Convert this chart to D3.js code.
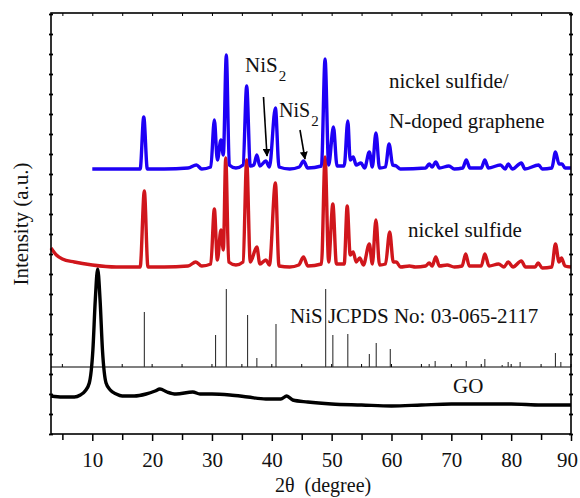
<!DOCTYPE html>
<html>
<head>
<meta charset="utf-8">
<script src="https://cdn.jsdelivr.net/npm/d3@7"></script>
<style>
  body { margin: 0; background: #fff; }
</style>
</head>
<body>
<svg id="chart" width="580" height="498"></svg>
<script>
// [2theta, intensity] (intensity in arbitrary stacked units)
const goData = [
  [3.1, 38], [5, 37], [7, 37], [8, 39], [8.8, 43], [9.5, 51], [10.1, 84], [10.5, 134], [10.9, 165],
  [11.3, 134], [11.7, 84], [12.3, 51], [13, 44], [14, 40], [15, 38], [17, 38], [19, 40], [20.5, 43],
  [21.3, 45], [22.5, 42], [24, 40], [26.8, 42], [28, 40], [30, 40], [33, 39], [36, 37], [39, 35],
  [41.5, 35], [42.5, 38], [43.5, 34], [46, 32], [50, 30], [55, 29], [60, 28], [65, 29], [70, 30],
  [75, 30], [80, 30], [85, 29], [90, 29]
];

const nisData = [
  [3.1, 186], [4, 179], [5, 175], [7, 172], [10, 169], [14, 167], [18, 167], [18.7, 243], [19.3, 167],
  [22, 167], [26, 168], [27.3, 172], [28.3, 168], [29.8, 170], [30.4, 225], [30.9, 174], [31.5, 204],
  [31.9, 184], [32.3, 276], [32.8, 172], [34, 169], [35.2, 172], [35.8, 274], [36.4, 172], [37.5, 187],
  [38, 170], [39, 174], [39.6, 169], [40.6, 251], [41.2, 168], [43, 167], [44.5, 169], [45.3, 177],
  [46, 168], [48.3, 170], [48.9, 277], [49.5, 172], [50.2, 230], [50.8, 170], [52.1, 170], [52.6, 228],
  [53.1, 179], [53.6, 182], [54.1, 172], [54.7, 176], [55.3, 169], [56.3, 190], [56.8, 170], [57.4, 214],
  [58, 169], [59, 170], [59.7, 202], [60.3, 172], [60.8, 172], [61.5, 167], [63, 168], [64, 167],
  [65.7, 168], [66.3, 171], [66.8, 168], [67.4, 177], [68, 168], [69.3, 169], [70.5, 167], [71.8, 168],
  [72.4, 180], [73, 168], [75, 168], [75.6, 180], [76.3, 168], [77.9, 170], [78.8, 167], [79.5, 172],
  [80.3, 167], [81.7, 173], [82.4, 167], [84, 167], [84.5, 171], [85.2, 166], [86.8, 167], [87.4, 190],
  [88, 172], [88.4, 176], [89, 168], [90, 167]
];

const compositeData = [
  [10, 265], [14, 265], [18, 265], [18.6, 317], [19.2, 265], [22, 265], [26, 266], [27.4, 269],
  [28.3, 265], [29.8, 267], [30.4, 314], [30.9, 274], [31.5, 294], [31.9, 279], [32.4, 379], [32.9, 269],
  [34, 266], [35.2, 269], [35.8, 348], [36.4, 268], [37, 269], [37.5, 279], [38, 268], [39, 273],
  [39.6, 267], [40.6, 326], [41.2, 267], [43, 265], [44.6, 267], [45.3, 273], [46, 266], [48.3, 268],
  [48.9, 375], [49.5, 269], [50.3, 307], [50.9, 268], [52.1, 268], [52.7, 313], [53.1, 274], [53.6, 277],
  [54.1, 269], [54.9, 271], [55.5, 266], [56.3, 282], [56.8, 267], [57.4, 301], [58, 266], [59, 267],
  [59.6, 290], [60.2, 269], [60.8, 268], [61.5, 265], [65.7, 266], [66.3, 270], [66.8, 267], [67.4, 272],
  [68, 266], [69.6, 268], [70.5, 265], [71.9, 266], [72.5, 274], [73.1, 266], [75, 266], [75.6, 274],
  [76.2, 266], [78.2, 269], [79, 265], [79.5, 270], [80.2, 265], [81.7, 271], [82.3, 265], [84.6, 269],
  [85.2, 265], [86.8, 266], [87.4, 282], [88, 270], [88.5, 270], [89, 266], [90, 266]
];

// NiS JCPDS 03-065-2117 reference lines: positions and relative heights
const jcpdsPos = [18.7, 30.6, 32.4, 35.95, 37.5, 40.7, 49.0, 50.2, 52.7, 56.3, 57.45, 59.8,
                  66.3, 67.3, 72.5, 75.6, 78.5, 79.5, 81.5, 87.4, 88.3];
const jcpdsInt = [55, 32, 78, 52, 9, 43, 78, 32, 33, 13, 24, 18, 3, 6, 6, 8, 2, 5, 5, 14, 5];
const jcpdsBase = 67;

const xTicks = [10, 20, 30, 40, 50, 60, 70, 80, 90];
const xMinor = [5, 15, 25, 35, 45, 55, 65, 75, 85];
const yTicks = d3.range(0, 421, 20);

const serif = "'Liberation Serif', 'Times New Roman', Tinos, 'DejaVu Serif', serif";

const svg = d3.select("#chart").attr("font-family", serif);
const box = {left: 51, right: 571, top: 13, bottom: 434};

const x = d3.scaleLinear().domain([3.1, 90]).range([box.left, box.right]);
const y = d3.scaleLinear().domain([0, 421]).range([box.bottom, box.top]);

const line = d3.line().x(d => x(d[0])).y(d => y(d[1])).curve(d3.curveMonotoneX);

// separator between GO and the reference pattern
svg.append("line")
  .attr("x1", box.left).attr("x2", box.right)
  .attr("y1", y(jcpdsBase)).attr("y2", y(jcpdsBase))
  .attr("stroke", "#000").attr("stroke-width", 1.2);
svg.append("g").selectAll("line").data(xTicks.concat(xMinor)).join("line")
  .attr("x1", d => x(d)).attr("x2", d => x(d))
  .attr("y1", y(jcpdsBase)).attr("y2", y(jcpdsBase) - 3)
  .attr("stroke", "#000");

// reference sticks
svg.append("g").selectAll("line").data(jcpdsPos).join("line")
  .attr("x1", d => x(d)).attr("x2", d => x(d))
  .attr("y1", y(jcpdsBase))
  .attr("y2", (d, i) => y(jcpdsBase + jcpdsInt[i]))
  .attr("stroke", "#333").attr("stroke-width", 1.1);

const series = [
  {data: goData, color: "#000000"},
  {data: nisData, color: "#d0161c"},
  {data: compositeData, color: "#1e00f5"}
];
series.forEach(s => {
  svg.append("path")
    .datum(s.data)
    .attr("d", line)
    .attr("fill", "none")
    .attr("stroke", s.color)
    .attr("stroke-width", 3.4)
    .attr("stroke-linejoin", "round");
});

// frame
svg.append("rect")
  .attr("x", box.left).attr("y", box.top)
  .attr("width", box.right - box.left).attr("height", box.bottom - box.top)
  .attr("fill", "none").attr("stroke", "#000").attr("stroke-width", 1.6);

// bottom axis
const xAxis = svg.append("g")
  .attr("transform", "translate(0," + box.bottom + ")")
  .call(d3.axisBottom(x).tickValues(xTicks).tickSize(7).tickPadding(11));
xAxis.attr("font-family", serif).attr("font-size", 21);
xAxis.select(".domain").remove();
xAxis.selectAll("text").attr("fill", "#111")
  .attr("dx", d => d === 90 ? -4 : 0);
xAxis.selectAll("line").attr("stroke-width", 1.5);

const xAxisMinor = svg.append("g")
  .attr("transform", "translate(0," + box.bottom + ")")
  .call(d3.axisBottom(x).tickValues(xMinor).tickSize(6).tickFormat(""));
xAxisMinor.select(".domain").remove();
xAxisMinor.selectAll("line").attr("stroke-width", 1.5);

// top axis, small inward ticks
const xTop = svg.append("g")
  .attr("transform", "translate(0," + box.top + ")")
  .call(d3.axisTop(x).tickValues(xTicks.concat(xMinor)).tickSize(-3).tickFormat(""));
xTop.select(".domain").remove();

// left and right ticks, no labels
const yLeft = svg.append("g")
  .attr("transform", "translate(" + box.left + ",0)")
  .call(d3.axisLeft(y).tickValues(yTicks).tickSize(2).tickFormat(""));
yLeft.select(".domain").remove();
yLeft.selectAll("line").attr("x2", 2).attr("x1", -2).attr("stroke-width", 1.8);

const yRight = svg.append("g")
  .attr("transform", "translate(" + box.right + ",0)")
  .call(d3.axisRight(y).tickValues(yTicks).tickSize(2).tickFormat(""));
yRight.select(".domain").remove();
yRight.selectAll("line").attr("x2", 2).attr("x1", -2).attr("stroke-width", 1.8);

function label(px, py, str, size) {
  return svg.append("text")
    .attr("x", px).attr("y", py)
    .attr("font-family", serif).attr("font-size", size)
    .attr("fill", "#111")
    .text(str);
}

// axis titles
label(275, 492, "2θ\u00a0\u00a0(degree)", 20);
label(0, 0, "Intensity (a.u.)", 21)
  .attr("transform", "translate(28,224) rotate(-90)")
  .attr("text-anchor", "middle");

// annotations
function nis2(px, py, size) {
  const t = label(px, py, "", size);
  t.append("tspan").text("NiS");
  t.append("tspan").attr("dx", 1).attr("dy", 9).attr("font-size", 15).text("2");
}
nis2(245, 72, 21);
nis2(279, 117, 20);

label(389, 88, "nickel sulfide/", 21);
label(389, 128, "N-doped graphene", 21);
label(408, 237, "nickel sulfide", 21);
label(290, 323, "NiS JCPDS No: 03-065-2117", 21);
label(453, 393, "GO", 21);

// arrows
svg.append("defs").append("marker")
  .attr("id", "ah").attr("viewBox", "0 0 10 10")
  .attr("refX", 9).attr("refY", 5)
  .attr("markerWidth", 5).attr("markerHeight", 5)
  .attr("orient", "auto")
  .append("path").attr("d", "M0,0L10,5L0,10z").attr("fill", "#000");

const arrows = [[263.5, 97, 267, 156], [300, 130, 305, 159]];
svg.append("g").selectAll("line").data(arrows).join("line")
  .attr("x1", d => d[0]).attr("y1", d => d[1])
  .attr("x2", d => d[2]).attr("y2", d => d[3])
  .attr("stroke", "#000").attr("stroke-width", 1.6)
  .attr("marker-end", "url(#ah)");
</script>
</body>
</html>
